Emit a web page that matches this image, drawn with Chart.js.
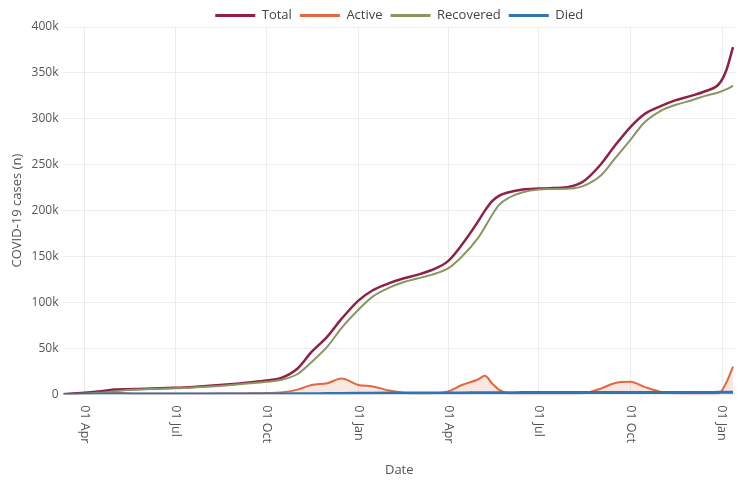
<!DOCTYPE html>
<html>
<head>
<meta charset="utf-8">
<script src="https://cdn.jsdelivr.net/npm/chart.js@4/dist/chart.umd.min.js"></script>
<style>
  html, body { margin: 0; padding: 0; background: #fff; }
  #wrap { width: 738px; height: 480px; }
</style>
</head>
<body>
<div id="wrap"><canvas id="c" width="738" height="480"></canvas></div>
<script>
// ---- Data (values in thousands of cases) ----
const dates = [
  '2020-03-11','2020-03-25','2020-04-15','2020-05-01','2020-05-15','2020-06-01','2020-06-15',
  '2020-07-01','2020-07-15','2020-08-01','2020-08-15','2020-09-01','2020-09-15','2020-10-01',
  '2020-10-15','2020-11-01','2020-11-15','2020-12-01','2020-12-15','2021-01-01','2021-01-15',
  '2021-02-01','2021-02-15','2021-03-01','2021-03-15','2021-04-01','2021-04-15','2021-05-01',
  '2021-05-08','2021-05-15','2021-05-22','2021-06-01','2021-06-15','2021-07-01','2021-07-15',
  '2021-08-01','2021-08-15','2021-09-01','2021-09-15','2021-10-01','2021-10-15','2021-11-01',
  '2021-11-15','2021-12-01','2021-12-15','2021-12-29','2022-01-05','2022-01-12'
];
const totalK = [
  0, 1, 3, 5, 5.5, 6, 6.5, 7, 7.5, 9, 10, 11.5, 13, 15, 17.5, 28, 46, 63, 82, 102, 113,
  121, 126, 130, 135, 145, 163, 188, 200, 210, 216, 220, 223, 224, 224.5, 226, 232, 250,
  270, 291, 305, 314, 320, 325, 330, 338, 352, 378
];
const activeK = [
  0, 1, 2, 1.8, 0.8, 0.5, 0.4, 0.4, 0.4, 0.6, 0.7, 0.8, 0.9, 1.2, 1.8, 5, 10, 12, 17, 10, 8.5,
  4, 1.5, 0.5, 0.8, 3, 10, 16, 20, 12, 5, 0.8, 0.5, 0.4, 0.4, 0.4, 1, 6, 12, 13.5, 8, 2.5,
  0.8, 0.4, 0.3, 1, 12, 30
];
const recoveredK = [
  0, 0.3, 1.5, 3, 4.5, 5.3, 6, 6.5, 7, 8, 9, 10.5, 12, 13.5, 15.5, 22, 35, 52, 72, 92, 106,
  116, 122, 126, 130, 137, 150, 170, 182, 195, 206, 214, 220, 223, 223.5, 224, 227, 238,
  256, 277, 296, 309, 315, 320, 325, 329, 332, 336
];
const diedK = [
  0, 0.02, 0.05, 0.08, 0.1, 0.1, 0.12, 0.13, 0.14, 0.15, 0.17, 0.2, 0.22, 0.25, 0.3, 0.4, 0.55,
  0.7, 0.85, 1.0, 1.1, 1.2, 1.25, 1.3, 1.32, 1.35, 1.4, 1.5, 1.55, 1.6, 1.65, 1.7, 1.72, 1.73,
  1.74, 1.75, 1.76, 1.8, 1.85, 1.9, 1.93, 1.95, 1.96, 1.97, 1.98, 1.99, 2.0, 2.05
];
const tickDates = ['2020-04-01','2020-07-01','2020-10-01','2021-01-01','2021-04-01','2021-07-01','2021-10-01','2022-01-01'];
const tickLabels = ['01 Apr','01 Jul','01 Oct','01 Jan','01 Apr','01 Jul','01 Oct','01 Jan'];
const yTickLabels = ['0','50k','100k','150k','200k','250k','300k','350k','400k'];

// ---- helpers ----
function dayNum(s) { const p = s.split('-').map(Number); return Date.UTC(p[0], p[1]-1, p[2]) / 86400000; }
function pts(arr) { return arr.map((v, i) => ({ x: dayNum(dates[i]), y: v })); }
const tickVals = tickDates.map(dayNum);

const FONT = "'Open Sans', 'DejaVu Sans', sans-serif";

const rotatedXLabels = {
  id: 'rotatedXLabels',
  afterDraw(chart) {
    const xs = chart.scales.x;
    const ctx = chart.ctx;
    ctx.save();
    ctx.font = '12.5px ' + FONT;
    ctx.fillStyle = '#555';
    ctx.textAlign = 'left';
    ctx.textBaseline = 'middle';
    xs.ticks.forEach((t, i) => {
      const px = xs.getPixelForValue(t.value);
      ctx.save();
      ctx.translate(px, xs.top + 11);
      ctx.rotate(Math.PI / 2);
      ctx.fillText(tickLabels[i], 0, 0);
      ctx.restore();
    });
    ctx.restore();
  }
};

// trims the legend's bottom gap so the plot starts closer to it
const tightLegend = {
  id: 'tightLegend',
  afterInit(chart) {
    const lg = chart.legend;
    if (!lg) return;
    const orig = lg.fit.bind(lg);
    lg.fit = function () { orig(); this.height = Math.max(0, this.height - 5); };
  }
};

new Chart(document.getElementById('c'), {
  type: 'line',
  data: {
    datasets: [
      { label: 'Total', data: pts(totalK), borderColor: '#8e2145', backgroundColor: '#8e2145',
        borderWidth: 2.5, pointRadius: 0, cubicInterpolationMode: 'monotone', fill: false, order: 2 },
      { label: 'Active', data: pts(activeK), borderColor: '#e2693e', backgroundColor: 'rgba(238,175,150,0.3)',
        borderWidth: 2, pointRadius: 0, cubicInterpolationMode: 'monotone', fill: 'origin', order: 3 },
      { label: 'Recovered', data: pts(recoveredK), borderColor: '#8a9662', backgroundColor: '#8a9662',
        borderWidth: 2, pointRadius: 0, cubicInterpolationMode: 'monotone', fill: false, order: 1 },
      { label: 'Died', data: pts(diedK), borderColor: '#2f75b5', backgroundColor: '#2f75b5',
        borderWidth: 3, pointRadius: 0, cubicInterpolationMode: 'monotone', fill: false, order: 0 }
    ]
  },
  options: {
    responsive: false,
    animation: false,
    devicePixelRatio: 1,
    layout: { padding: { left: 9, right: 3, top: 1, bottom: 2 } },
    plugins: {
      legend: {
        position: 'top',
        fullSize: false,
        labels: {
          boxWidth: 40, boxHeight: 3,
          color: '#444', font: { family: FONT, size: 13 }, padding: 8,
          sort: (a, b) => a.datasetIndex - b.datasetIndex,
          generateLabels(chart) {
            return chart.data.datasets.map((ds, i) => ({
              text: ds.label, fillStyle: ds.borderColor, strokeStyle: ds.borderColor,
              lineWidth: 0, hidden: false, datasetIndex: i, fontColor: '#444'
            }));
          }
        }
      },
      tooltip: { enabled: false }
    },
    scales: {
      x: {
        type: 'linear',
        min: dayNum('2020-03-11'),
        max: dayNum('2022-01-14'),
        afterBuildTicks(scale) { scale.ticks = tickVals.map(v => ({ value: v })); },
        afterFit(scale) { scale.paddingLeft = 0; scale.paddingRight = 0; },
        ticks: {
          color: 'rgba(0,0,0,0)', minRotation: 90, maxRotation: 90, autoSkip: false,
          font: { family: FONT, size: 12.5 }, padding: 7,
          callback(v) { const i = tickVals.indexOf(v); return i >= 0 ? tickLabels[i] : ''; }
        },
        grid: { color: '#ececec', drawTicks: false },
        border: { display: false },
        title: { display: true, text: 'Date', color: '#555', font: { family: FONT, size: 13 }, padding: { top: 16, bottom: 0 } }
      },
      y: {
        min: 0, max: 400,
        ticks: {
          stepSize: 50, color: '#555', font: { family: FONT, size: 12 }, padding: 5,
          callback(v) { return yTickLabels[Math.round(v / 50)]; }
        },
        grid: { color: '#ececec', drawTicks: false },
        border: { display: false },
        title: { display: true, text: 'COVID-19 cases (n)', color: '#555', font: { family: FONT, size: 13 }, padding: { top: 0, bottom: 2 } }
      }
    }
  },
  plugins: [rotatedXLabels, tightLegend]
});
</script>
</body>
</html>
